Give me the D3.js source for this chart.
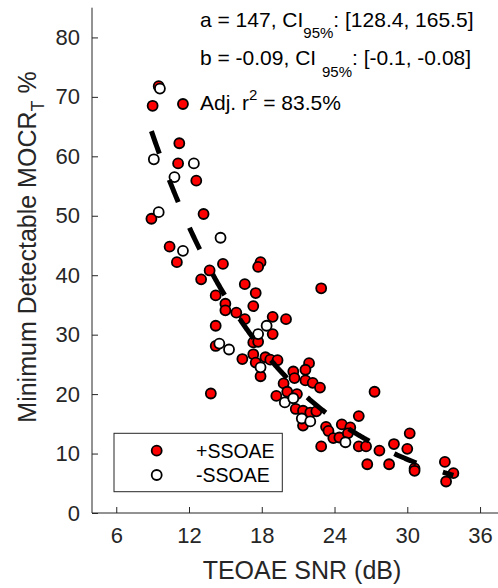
<!DOCTYPE html>
<html>
<head>
<meta charset="utf-8">
<script src="https://cdn.jsdelivr.net/npm/d3@7"></script>
<style>
  body { margin: 0; background: #fff; }
  text { font-family: "Liberation Sans", Arial, Helvetica, sans-serif; }
</style>
</head>
<body>
<div id="chart"></div>
<script>
// +SSOAE points [TEOAE SNR dB, min detectable MOCR %]
var ssoaePos = [
  [9.5, 71.8], [9.0, 68.5], [11.5, 68.8], [11.2, 62.2], [11.1, 58.8], [12.6, 55.9],
  [8.9, 49.5], [13.2, 50.3], [10.4, 44.8], [11.0, 42.2], [14.8, 41.9], [17.9, 42.2],
  [17.7, 41.4], [13.7, 40.8], [13.0, 39.3], [16.6, 38.5], [17.5, 37.0], [14.2, 36.6],
  [17.3, 34.8], [15.0, 35.2], [15.0, 34.1], [15.9, 33.7], [16.6, 32.6], [18.9, 33.0],
  [20.0, 32.6], [14.2, 31.5], [18.9, 30.1], [17.3, 28.7], [17.7, 28.8], [14.2, 28.1],
  [16.4, 25.9], [17.3, 26.7], [17.5, 25.3], [17.9, 23.0], [18.3, 26.2], [18.7, 25.8],
  [19.3, 25.7], [22.9, 37.8], [21.9, 25.2], [21.6, 24.1], [20.6, 23.8], [20.7, 22.7],
  [19.8, 21.8], [21.6, 22.3], [22.2, 21.9], [22.8, 21.1], [13.8, 20.1], [27.3, 20.4],
  [19.2, 19.7], [20.1, 20.4], [20.9, 20.0], [20.8, 17.5], [21.4, 17.2], [22.0, 16.9],
  [22.5, 17.1], [21.4, 14.7], [26.0, 16.3], [23.3, 14.5], [23.5, 13.8], [24.6, 14.9],
  [25.3, 14.4], [23.9, 12.6], [24.4, 12.7], [25.1, 13.4], [22.9, 11.2], [26.0, 11.2],
  [26.6, 11.2], [27.7, 10.5], [28.9, 11.6], [30.2, 13.4], [30.0, 10.8], [26.7, 8.2],
  [28.5, 8.2], [30.6, 7.5], [30.6, 7.1], [33.1, 8.6], [33.8, 6.7], [33.2, 5.3]
];
// -SSOAE points
var ssoaeNeg = [
  [9.6, 71.4], [9.1, 59.5], [12.4, 58.8], [10.8, 56.5], [9.5, 50.6], [14.6, 46.3],
  [11.5, 44.1], [18.4, 31.5], [17.7, 30.1], [14.5, 28.5], [15.3, 27.5], [17.9, 24.5],
  [19.9, 18.6], [20.6, 19.3], [21.3, 15.9], [22.0, 15.4], [24.9, 11.9]
];
var xTicks = [6, 12, 18, 24, 30, 36];
var yTicks = [0, 10, 20, 30, 40, 50, 60, 70, 80];
var legendLabels = ["+SSOAE", "-SSOAE"];
// exponential fit y = a*exp(b*x)
var fitA = 147, fitB = -0.093;

var W = 498, H = 588;
var ink = "#262626";
var markR = 5, markW = 1.8;

var svg = d3.select("#chart").append("svg").attr("width", W).attr("height", H);

var x = d3.scaleLinear().domain([4, 38]).range([92, 504.3]);
var y = d3.scaleLinear().domain([0, 85]).range([513, 7.7]);

// axes (ticks inward)
var xAxis = d3.axisBottom(x).tickValues(xTicks).tickSize(-6).tickPadding(14);
var gx = svg.append("g").attr("transform", "translate(0," + y(0) + ")").call(xAxis);
gx.select(".domain").attr("stroke", ink).attr("d", "M" + x(4) + ",0H" + x(38));
gx.selectAll(".tick line").attr("stroke", ink);
gx.selectAll(".tick text").attr("fill", ink).style("font-size", "22px")
  .attr("dy", "0.71em");

var yAxis = d3.axisLeft(y).tickValues(yTicks).tickSize(-6).tickPadding(12);
var gy = svg.append("g").attr("transform", "translate(" + x(4) + ",0)").call(yAxis);
gy.select(".domain").attr("stroke", ink).attr("d", "M0," + y(0) + "V" + y(85));
gy.selectAll(".tick line").attr("stroke", ink);
gy.selectAll(".tick text").attr("fill", ink).style("font-size", "22px");

// axis labels
svg.append("text")
  .attr("x", 302).attr("y", 579)
  .attr("text-anchor", "middle")
  .attr("fill", ink).style("font-size", "25px")
  .text("TEOAE SNR (dB)");

var yl = svg.append("text")
  .attr("transform", "translate(36,247) rotate(-90)")
  .attr("text-anchor", "middle")
  .attr("fill", ink).style("font-size", "25px");
yl.append("tspan").text("Minimum Detectable MOCR");
yl.append("tspan").attr("dy", 8).style("font-size", "18px").text("T");
yl.append("tspan").attr("dy", -8).text(" %");

// points
function drawPoints(data, fill) {
  svg.append("g").selectAll("circle").data(data).enter().append("circle")
    .attr("cx", function(d) { return x(d[0]); })
    .attr("cy", function(d) { return y(d[1]); })
    .attr("r", markR)
    .attr("fill", fill)
    .attr("stroke", "#000")
    .attr("stroke-width", markW);
}
drawPoints(ssoaePos, "#ff0000");
drawPoints(ssoaeNeg, "#ffffff");

// fit line
var allX = ssoaePos.concat(ssoaeNeg).map(function(d) { return d[0]; });
var xr = d3.extent(allX);
var fitPts = d3.range(xr[0], xr[1], 0.05).concat([xr[1]])
  .map(function(v) { return [v, fitA * Math.exp(fitB * v)]; });
svg.append("path")
  .datum(fitPts)
  .attr("d", d3.line().x(function(d) { return x(d[0]); }).y(function(d) { return y(d[1]); }))
  .attr("fill", "none")
  .attr("stroke", "#000")
  .attr("stroke-width", 5)
  .attr("stroke-dasharray", "24,28");

// annotation
var t1 = svg.append("text").attr("x", 200).attr("y", 27).style("font-size", "21px").attr("fill", "#000");
t1.append("tspan").text("a = 147, CI");
t1.append("tspan").attr("dy", 11).style("font-size", "15px").text("95%");
t1.append("tspan").attr("dy", -11).text(": [128.4, 165.5]");

var t2 = svg.append("text").attr("x", 200).attr("y", 65).style("font-size", "21px").attr("fill", "#000");
t2.append("tspan").text("b = -0.09, CI ");
t2.append("tspan").attr("dy", 12).style("font-size", "15px").text("95%");
t2.append("tspan").attr("dy", -12).text(": [-0.1, -0.08]");

var t3 = svg.append("text").attr("x", 200).attr("y", 110).style("font-size", "21px").attr("fill", "#000");
t3.append("tspan").text("Adj. r");
t3.append("tspan").attr("dy", -10).style("font-size", "15px").text("2");
t3.append("tspan").attr("dy", 10).text(" = 83.5%");

// legend
var lg = svg.append("g");
lg.append("rect").attr("x", 114).attr("y", 433.3).attr("width", 168.3).attr("height", 58.4)
  .attr("fill", "#fff").attr("stroke", ink).attr("stroke-width", 1);
var legFills = ["#ff0000", "#ffffff"];
legendLabels.forEach(function(lab, i) {
  var cy = 450.7 + i * 24.3;
  lg.append("circle").attr("cx", 156.7).attr("cy", cy).attr("r", markR)
    .attr("fill", legFills[i]).attr("stroke", "#000").attr("stroke-width", markW);
  lg.append("text").attr("x", 196).attr("y", cy + 7).style("font-size", "19.5px")
    .attr("fill", "#000").text(lab);
});
</script>
</body>
</html>
